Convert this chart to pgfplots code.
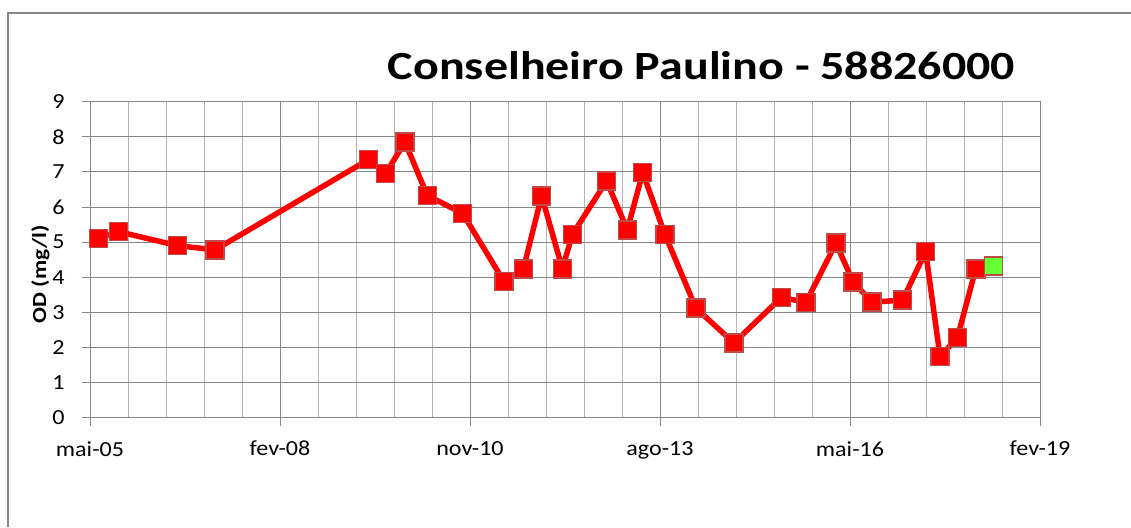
\documentclass[border=0pt]{standalone}
\usepackage{pgfplots}
\pgfplotsset{compat=1.18}
\usepackage{fontspec}
\setmainfont{Carlito}
\definecolor{majgrid}{RGB}{135,135,135}
\definecolor{mingrid}{RGB}{180,180,180}
\definecolor{mkborder}{RGB}{190,75,72}
\definecolor{mkgreen}{RGB}{102,255,51}
\begin{document}
\begin{tikzpicture}[x=1pt,y=1pt]
\useasboundingbox (0,0) rectangle (1131,527);
\draw[color=majgrid,line width=1.5] (8,0) -- (8,514) -- (1131,514);
\begin{axis}[
  at={(90pt,109.3pt)}, anchor=south west,
  scale only axis, width=950pt, height=316pt,
  xmin=38500, xmax=43500, ymin=0, ymax=9,
  scaled x ticks=false,
  xtick={38500,39500,40500,41500,42500,43500},
  xticklabels={\scalebox{1.12}[1]{mai-05},\scalebox{1.12}[1]{fev-08},\scalebox{1.12}[1]{nov-10},\scalebox{1.12}[1]{ago-13},\scalebox{1.12}[1]{mai-16},\scalebox{1.12}[1]{fev-19}},
  minor x tick num=4,
  ytick={0,1,...,9},
  yticklabel={\scalebox{1.12}[1]{\pgfmathprintnumber{\tick}}},
  /pgf/number format/assume math mode=true,
  tick label style={font=\fontsize{21.5}{25}\selectfont},
  xticklabel style={yshift=-12pt},
  yticklabel style={xshift=-14pt},
  grid=both,
  major grid style={color=majgrid,line width=1},
  minor grid style={color=mingrid,line width=1},
  tick align=outside,
  major tick length=8pt, minor tick length=0pt,
  tick style={color=majgrid,line width=1},
  axis line style={color=majgrid,line width=1},
  xtick pos=bottom, ytick pos=left,
  clip=false,
]
\addplot[color=red, line width=5.5pt, mark=square*, mark size=9pt,
  mark options={fill=red, draw=mkborder, line width=1.5pt}] coordinates {
(38544,5.11) (38649,5.30) (38961,4.90) (39158,4.78) (39965,7.35)
(40056,6.96) (40158,7.85) (40275,6.33) (40461,5.82) (40679,3.88)
(40781,4.24) (40877,6.32) (40986,4.24) (41039,5.22) (41219,6.74)
(41328,5.35) (41409,6.98) (41526,5.22) (41689,3.12) (41889,2.13)
(42140,3.43) (42268,3.28) (42426,4.97) (42517,3.86) (42617,3.29)
(42777,3.35) (42898,4.73) (42974,1.74) (43065,2.28) (43162,4.24)
};
\addplot[only marks, mark=square*, mark size=9pt,
  mark options={fill=mkgreen, draw=mkborder, line width=1.5pt}] coordinates {
(43254,4.32)
};
\end{axis}
\node[anchor=base, font=\fontsize{40}{48}\selectfont\bfseries] at (701.5,447) {\scalebox{1.2}[1]{Conselheiro Paulino - 58826000}};
\node[anchor=base, rotate=90, font=\fontsize{20}{24}\selectfont\bfseries] at (46,252.5) {\scalebox{1.18}[1]{OD (mg/l)}};
\end{tikzpicture}
\end{document}
